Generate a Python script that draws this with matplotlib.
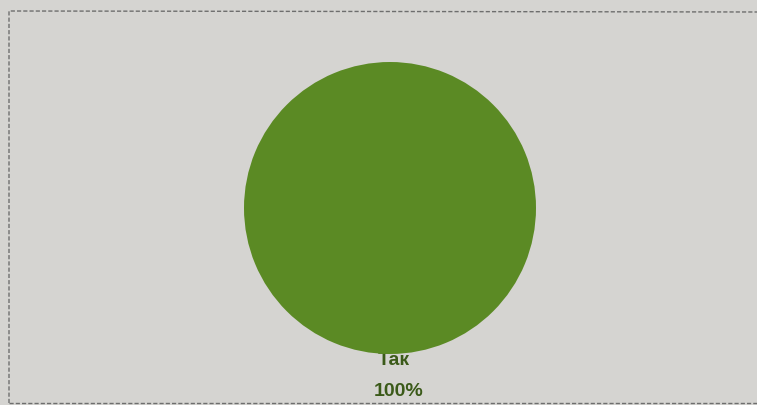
import matplotlib
matplotlib.use("Agg")
import matplotlib.pyplot as plt

# ---------- data ----------
labels = ["Так"]
values = [100]
colors = ["#5b8a24"]

W, H = 757, 406
fig = plt.figure(figsize=(W / 100, H / 100), dpi=100)
fig.patch.set_facecolor("#d5d4d1")
ax = fig.add_axes([0, 0, 1, 1])

# dashed chart border (photo of a printed chart)
ax.plot([9, 9, W + 5], [2, H - 12, H - 13], color="#555555", lw=1.0,
        ls=(0, (3, 1.5)), alpha=0.8)
ax.plot([9, W], [2, 2], color="#555555", lw=1.0, ls=(0, (3, 1.5)), alpha=0.8)

cx, cy, r = 390, H - 209, 146
ax.pie(values, colors=colors, startangle=90, counterclock=False,
       center=(cx, cy), radius=r, frame=True,
       wedgeprops=dict(linewidth=0, zorder=3))
ax.set_xlim(0, W)
ax.set_ylim(0, H)
ax.set_aspect("equal")
ax.axis("off")

total = sum(values)
for lab, v in zip(labels, values):
    pct = 100 * v / total
    ax.text(cx + 4, cy - r - 6, lab, ha="center", va="center", fontsize=14,
            fontweight="bold", color="#3b5a19", family="Liberation Sans", zorder=2)
    ax.text(cx + 9, cy - r - 37, f"{pct:.0f}%", ha="center", va="center",
            fontsize=14, fontweight="bold", color="#3b5a19",
            family="Liberation Sans", zorder=2)

fig.savefig("out.png", dpi=100, facecolor=fig.get_facecolor())
